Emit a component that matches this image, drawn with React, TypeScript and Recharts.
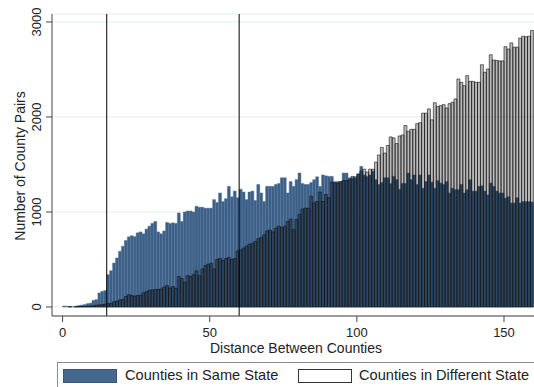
import React from 'react';
import { BarChart, Bar, XAxis, YAxis, CartesianGrid, ReferenceLine } from 'recharts';

// histogram bins (lower edge, miles), 1-mile wide
const binStart = [
  0, 1, 2, 3, 4, 5, 6, 7, 8, 9, 10, 11, 12, 13, 14, 15, 16, 17, 18, 19,
  20, 21, 22, 23, 24, 25, 26, 27, 28, 29, 30, 31, 32, 33, 34, 35, 36, 37, 38, 39,
  40, 41, 42, 43, 44, 45, 46, 47, 48, 49, 50, 51, 52, 53, 54, 55, 56, 57, 58, 59,
  60, 61, 62, 63, 64, 65, 66, 67, 68, 69, 70, 71, 72, 73, 74, 75, 76, 77, 78, 79,
  80, 81, 82, 83, 84, 85, 86, 87, 88, 89, 90, 91, 92, 93, 94, 95, 96, 97, 98, 99,
  100, 101, 102, 103, 104, 105, 106, 107, 108, 109, 110, 111, 112, 113, 114, 115, 116, 117, 118, 119,
  120, 121, 122, 123, 124, 125, 126, 127, 128, 129, 130, 131, 132, 133, 134, 135, 136, 137, 138, 139,
  140, 141, 142, 143, 144, 145, 146, 147, 148, 149, 150, 151, 152, 153, 154, 155, 156, 157, 158, 159,
];

const sameState = [
  10, 8, 5, 3, 8, 15, 20, 25, 35, 40,
  70, 77, 148, 165, 172, 340, 382, 463, 516, 586,
  639, 700, 738, 750, 740, 780, 790, 770, 820, 850,
  880, 900, 790, 770, 800, 890, 880, 885, 880, 990,
  900, 1000, 1010, 1010, 1000, 1060, 1050, 1050, 1040, 1040,
  1040, 1130, 1100, 1200, 1110, 1140, 1270, 1160, 1220, 1150,
  1240, 1210, 1130, 1210, 1220, 1120, 1290, 1200, 1110, 1270,
  1270, 1270, 1290, 1300, 1360, 1360, 1200, 1320, 1270, 1340,
  1410, 1300, 1290, 1290, 1310, 1340, 1370, 1270, 1390, 1380,
  1375, 1375, 1320, 1320, 1320, 1410, 1410, 1360, 1360, 1360,
  1400, 1480, 1390, 1375, 1390, 1430, 1340, 1290, 1310, 1360,
  1360, 1300, 1375, 1340, 1240, 1300, 1300, 1410, 1340, 1390,
  1290, 1390, 1250, 1320, 1390, 1315, 1250, 1330, 1305, 1290,
  1320, 1200, 1250, 1235, 1235, 1290, 1200, 1235, 1340, 1220,
  1220, 1270, 1275, 1220, 1180, 1305, 1270, 1220, 1200, 1200,
  1145, 1160, 1095, 1095, 1150, 1095, 1110, 1110, 1110, 1105,
];

const diffState = [
  0, 0, 3, 0, 2, 4, 5, 6, 8, 10,
  12, 18, 22, 25, 28, 35, 38, 55, 60, 75,
  78, 110, 130, 120, 115, 120, 125, 150, 160, 175,
  180, 185, 185, 190, 210, 225, 200, 215, 195, 320,
  300, 260, 330, 320, 340, 380, 330, 400, 435, 450,
  460, 400, 500, 510, 490, 510, 520, 500, 510, 590,
  600, 620, 640, 660, 670, 690, 720, 730, 760, 800,
  810, 790, 830, 850, 835, 850, 900, 925, 815, 920,
  975, 1030, 1040, 1040, 1165, 1095, 1110, 1210, 1110, 1185,
  1150, 1315, 1305, 1305, 1320, 1330, 1330, 1340, 1375, 1370,
  1400, 1430, 1450, 1420, 1450, 1450, 1525, 1600, 1680, 1620,
  1700, 1790, 1780, 1720, 1800, 1810, 1910, 1850, 1870, 1870,
  1930, 1940, 2040, 2040, 2085, 1970, 2150, 2110, 2120, 2130,
  2095, 2140, 2155, 2190, 2400, 2365, 2330, 2435, 2375, 2375,
  2365, 2365, 2550, 2470, 2505, 2655, 2600, 2595, 2590, 2590,
  2740, 2715, 2780, 2735, 2735, 2830, 2850, 2845, 2850, 2910,
];

const xTicks = [0, 50, 100, 150];
const yTicks = [0, 1000, 2000, 3000];
const cutoffs = [15, 60];

const data = binStart.map((b, i) => ({
  mid: b + 0.5,
  same: sameState[i],
  diff: diffState[i],
}));

const FONT = 'Arial, "Liberation Sans", sans-serif';
const BLUE = '#3d5f86';

const XTick = ({ x, y, payload }: any) => (
  <text x={x} y={y + 13} textAnchor="middle" fontSize={13} fontFamily={FONT} fill="#222">
    {payload.value}
  </text>
);

const YTick = ({ y, payload }: any) => (
  <text
    x={41.5}
    y={y}
    transform={`rotate(-90 41.5 ${y})`}
    textAnchor="middle"
    fontSize={13}
    fontFamily={FONT}
    fill="#222"
  >
    {payload.value}
  </text>
);

const YTitle = () => (
  <text x={25} y={166} transform="rotate(-90 25 166)" textAnchor="middle" fontSize={14} fontFamily={FONT} fill="#222">
    Number of County Pairs
  </text>
);

const XTitle = () => (
  <text x={296} y={353} textAnchor="middle" fontSize={14} fontFamily={FONT} fill="#222">
    Distance Between Counties
  </text>
);

const legendText: React.CSSProperties = { fontFamily: FONT, fontSize: 14.6, color: '#222', whiteSpace: 'nowrap' };

export default function App() {
  return (
    <div style={{ position: 'absolute', left: 0, top: 0, width: 534, height: 387, overflow: 'hidden', background: '#fff' }}>
      <BarChart width={534} height={387} data={data} margin={{ top: 14, right: 0, bottom: 0, left: 0 }}>
        <CartesianGrid horizontal vertical={false} stroke="#e4edf0" xAxisId="main" />
        <XAxis
          xAxisId="main"
          dataKey="mid"
          type="number"
          domain={[-3.6, 160.2]}
          allowDataOverflow
          ticks={xTicks}
          height={71}
          stroke="#444"
          tickSize={6}
          tick={<XTick />}
          label={XTitle}
        />
        <XAxis xAxisId="over" dataKey="mid" type="number" domain={[-3.6, 160.2]} allowDataOverflow hide />
        <YAxis
          domain={[-95, 3084]}
          allowDataOverflow
          ticks={yTicks}
          width={52}
          stroke="#444"
          tickSize={6}
          tick={<YTick />}
          label={YTitle}
        />
        <Bar xAxisId="main" dataKey="same" fill={BLUE} stroke="#55779c" strokeWidth={0.5} barSize={2.94} isAnimationActive={false} />
        <Bar
          xAxisId="over"
          dataKey="diff"
          fill="#000"
          fillOpacity={0.27}
          stroke="#111"
          strokeWidth={0.6}
          barSize={2.94}
          isAnimationActive={false}
        />
        {cutoffs.map((c) => (
          <ReferenceLine key={c} xAxisId="main" x={c} stroke="#000" strokeWidth={1} />
        ))}
      </BarChart>
      <div
        style={{
          position: 'absolute',
          left: 57,
          top: 362,
          width: 520,
          height: 40,
          border: '1px solid #8c8c8c',
          boxSizing: 'border-box',
        }}
      >
        <div style={{ position: 'absolute', left: 5, top: 6, width: 54, height: 14, background: '#46688c', border: '1px solid #3a5677', boxSizing: 'border-box' }} />
        <div style={{ ...legendText, position: 'absolute', left: 67, top: 3.5 }}>Counties in Same State</div>
        <div style={{ position: 'absolute', left: 240, top: 6, width: 54, height: 14, background: '#fff', border: '1px solid #333', boxSizing: 'border-box' }} />
        <div style={{ ...legendText, position: 'absolute', left: 301, top: 3.5 }}>Counties in Different State</div>
      </div>
    </div>
  );
}
